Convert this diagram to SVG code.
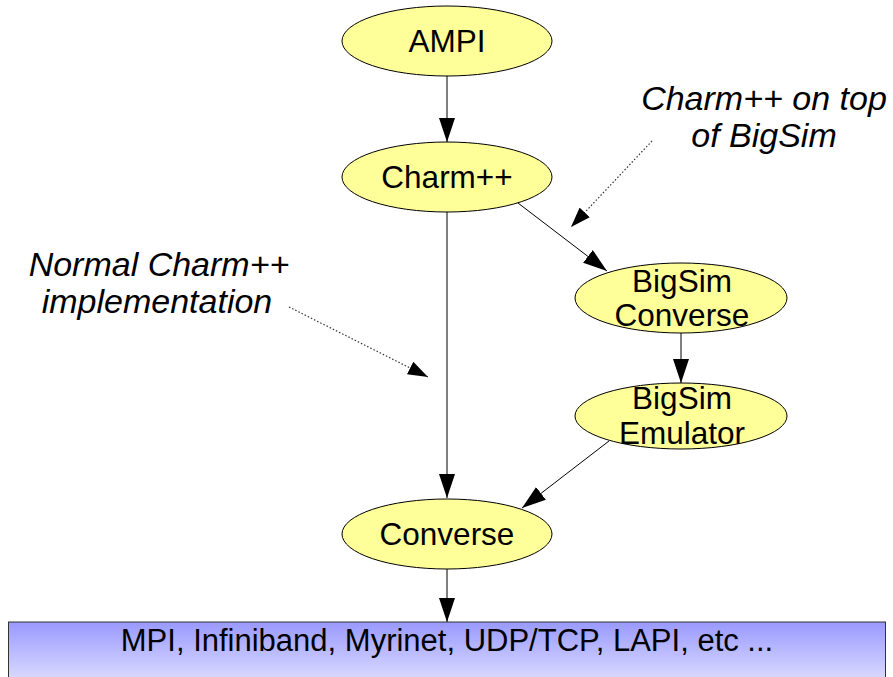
<svg xmlns="http://www.w3.org/2000/svg" width="893" height="677" viewBox="0 0 893 677">
<style>
.node ellipse{fill:#ffff99;stroke:#000;stroke-width:1}
.nt{font-family:"Liberation Sans",Arial,sans-serif;font-size:31.5px;fill:#000;text-anchor:middle}
.bt{font-family:"Liberation Sans",Arial,sans-serif;font-size:31px;fill:#000;text-anchor:middle}
.lbl{font-family:"Liberation Sans",Arial,sans-serif;font-size:34px;font-style:italic;fill:#000;text-anchor:middle}
.edge{stroke:#000;stroke-width:1;fill:none}
.dot{stroke:#333;stroke-width:1.2;fill:none;stroke-dasharray:1.5 2}
</style>
<defs>
<marker id="ah" markerUnits="userSpaceOnUse" markerWidth="24" markerHeight="16" refX="24" refY="8" orient="auto">
<path d="M0,0 L24,8 L0,16 z" fill="#000"/>
</marker>
<marker id="ahd" markerUnits="userSpaceOnUse" markerWidth="20" markerHeight="14" refX="20" refY="7" orient="auto">
<path d="M0,0 L20,7 L0,14 z" fill="#000"/>
</marker>
<linearGradient id="bg" x1="0" y1="0" x2="0" y2="1">
<stop offset="0" stop-color="#9999ff"/>
<stop offset="1" stop-color="#e8e8ff"/>
</linearGradient>
</defs>
<g id="connectors">
<line class="edge" x1="447" y1="76" x2="447" y2="142" marker-end="url(#ah)"/>
<line class="edge" x1="447" y1="212" x2="447" y2="498" marker-end="url(#ah)"/>
<line class="edge" x1="518" y1="203" x2="607" y2="271" marker-end="url(#ah)"/>
<line class="edge" x1="681" y1="333" x2="681" y2="383" marker-end="url(#ah)"/>
<line class="edge" x1="609" y1="441" x2="522" y2="508" marker-end="url(#ah)"/>
<line class="edge" x1="447" y1="569" x2="447" y2="622" marker-end="url(#ah)"/>
<line class="dot" x1="289" y1="307" x2="428" y2="377" marker-end="url(#ahd)"/>
<line class="dot" x1="652" y1="141" x2="571" y2="227" marker-end="url(#ahd)"/>
</g>
<g id="ampi" class="node">
<ellipse cx="447" cy="41" rx="105" ry="35"/>
<text class="nt" x="447" y="52">AMPI</text>
</g>
<g id="charm" class="node">
<ellipse cx="447" cy="177" rx="105" ry="35"/>
<text class="nt" x="447" y="188">Charm++</text>
</g>
<g id="bigsim-converse" class="node">
<ellipse cx="681" cy="298" rx="106" ry="35"/>
<text class="nt" x="682" y="292">BigSim</text>
<text class="nt" x="682" y="326">Converse</text>
</g>
<g id="bigsim-emulator" class="node">
<ellipse cx="681" cy="416" rx="106" ry="33"/>
<text class="nt" x="682" y="409">BigSim</text>
<text class="nt" x="682" y="444">Emulator</text>
</g>
<g id="converse" class="node">
<ellipse cx="447" cy="534" rx="105" ry="35"/>
<text class="nt" x="447" y="545">Converse</text>
</g>
<g id="network">
<rect x="8.5" y="622" width="877" height="70" fill="url(#bg)" stroke="#333" stroke-width="1"/>
<text class="bt" x="447" y="651">MPI, Infiniband, Myrinet, UDP/TCP, LAPI, etc ...</text>
</g>
<g id="label-normal">
<text class="lbl" x="159" y="276">Normal Charm++</text>
<text class="lbl" x="157" y="313">implementation</text>
</g>
<g id="label-ontop">
<text class="lbl" x="764" y="110">Charm++ on top</text>
<text class="lbl" x="764" y="147">of BigSim</text>
</g>
</svg>
